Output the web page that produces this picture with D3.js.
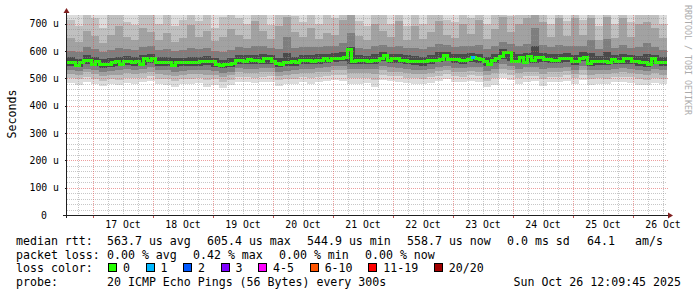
<!DOCTYPE html>
<html>
<head>
<meta charset="utf-8">
<script src="https://cdn.jsdelivr.net/npm/d3@7"></script>
<style>
  body { margin: 0; background: #fff; }
  svg { display: block; }
  text { font-family: "DejaVu Sans Mono", monospace; }
</style>
</head>
<body>
<script>
// median rtt in microseconds, one value per 96 min (150 steps over 10 days)
var median = [
  559,559,549,557,566,566,552,563,551,551, 551,559,563,551,561,563,557,561,552,572,
  567,572,559,559,559,557,548,559,557,557, 558,558,558,562,562,562,560,552,548,552,
  552,556,567,567,561,570,565,565,561,573, 573,561,555,552,557,557,560,557,565,565,
  567,561,567,567,572,567,574,574,572,578, 605,561,565,567,567,561,567,567,572,582,
  567,573,573,565,565,562,562,560,560,560, 565,565,565,570,583,568,568,568,567,567,
  570,575,572,568,561,552,567,571,579,595, 595,561,561,577,559,580,565,575,575,570,
  570,565,565,571,571,574,563,563,574,575, 556,561,561,563,563,559,570,562,562,571,
  571,562,562,557,557,552,572,559,558,558
];
// steps where packets were lost, and how many of 20
var lossAt = [101];
var lossCount = [1];

// smoke: sorted ping values per 192 min step (75 steps); ping 20 is above the top of the axis
var lo1 = [482,476,488,480,472,478,474,484,481,485, 490,478,476,470,479,480,482,468,477,466,
  474,487,486,484,486,488,472,478,480,485, 480,487,490,494,492,480,478,484,470,495,
  490,488,483,480,479,484,490,496,487,485, 492,488,470,476,500,494,478,488,490,472,
  486,487,492,480,494,476,480,478,485,486, 484,476,474,482,478];
var lo3 = [500,496,506,499,492,497,495,503,500,503, 509,498,497,492,498,499,501,494,497,488,
  494,506,505,503,506,507,493,497,499,504, 501,506,509,513,512,500,500,503,495,514,
  509,507,502,500,499,504,510,515,507,505, 511,508,492,500,519,514,500,508,509,497,
  506,506,511,500,513,497,500,499,504,505, 504,497,494,502,498];
var lo5 = [516,512,522,515,508,513,513,519,516,519, 525,515,514,510,514,515,517,514,513,506,
  511,522,521,520,522,523,510,514,515,520, 518,522,525,529,529,518,518,519,516,530,
  525,524,519,516,515,520,527,531,523,522, 527,525,511,519,536,531,518,525,525,517,
  523,523,527,517,529,514,517,516,520,522, 521,515,511,519,514];
var lo7 = [530,526,536,530,523,527,529,534,531,534, 540,530,529,525,528,529,531,531,527,521,
  525,537,536,535,537,538,525,528,530,535, 533,537,540,544,544,535,534,534,534,546,
  540,539,534,531,530,535,543,547,538,537, 542,540,527,536,553,547,535,540,540,536,
  538,538,542,532,544,529,532,531,535,537, 536,530,526,535,529];
var lo9 = [546,541,553,545,539,543,544,550,547,550, 557,546,545,541,544,545,547,549,543,537,
  541,554,553,552,554,554,541,544,546,552, 551,554,557,561,562,552,553,551,554,563,
  557,556,551,548,547,552,561,564,555,554, 560,557,544,556,571,565,556,557,557,559,
  555,555,560,550,562,546,549,548,553,554, 554,547,542,553,545];
var hi12 = [577,572,585,578,570,575,578,582,578,584, 590,578,577,573,576,578,580,583,575,569,
  574,587,586,587,588,586,575,592,580,586, 585,588,590,594,597,615,586,583,589,597,
  590,590,584,582,580,586,596,597,588,588, 593,591,578,590,606,598,590,592,618,594,
  588,590,593,586,595,592,582,596,586,590, 587,582,590,587,578];
var hi14 = [602,598,615,606,596,603,610,608,603,615, 618,604,606,600,603,610,607,612,601,597,
  604,615,612,620,617,612,606,650,610,614, 615,614,617,620,628,665,612,608,618,624,
  616,620,610,612,606,614,625,622,614,618, 620,622,606,618,635,625,620,625,685,624,
  614,622,618,620,620,640,607,645,611,622, 612,614,630,616,605];
var hi16 = [648,635,672,655,630,660,690,650,640,685, 668,640,665,632,648,695,650,675,638,650,
  680,660,645,710,675,645,690,725,668,650, 685,645,665,660,715,740,655,640,700,672,
  650,710,640,690,645,668,710,660,648,700, 662,712,645,680,725,670,700,720,745,708,
  650,720,655,720,660,720,640,725,648,720, 652,698,705,685,648];
var hi18 = [712,690,760,720,685,740,780,705,695,770, 735,700,745,690,715,790,710,760,685,725,
  770,720,700,800,745,695,780,800,730,705, 760,700,740,720,800,820,710,690,785,735,
  700,800,690,770,700,740,800,715,705,790, 720,800,700,760,810,730,790,810,800,800,
  700,810,710,810,715,780,690,800,700,810, 705,790,770,770,700];

var lossLabels = ["0", "1", "2", "3", "4-5", "6-10", "11-19", "20/20"];
var lossColors = ["#26ff00", "#00b8ff", "#0059ff", "#7e00ff", "#ff00ff", "#ff5500", "#ff0000", "#a10000"];
var lossIndex = [0, 1, 2, 3, 4, 4, 5, 5, 5, 5, 5, 6, 6, 6, 6, 6, 6, 6, 6, 6, 7];

var rttStats = ["563.7 us avg", "605.4 us max", "544.9 us min", "558.7 us now", "0.0 ms sd", "64.1", "am/s"];
var lossStats = ["0.00 % avg", "0.42 % max", "0.00 % min", "0.00 % now"];
var probeText = "20 ICMP Echo Pings (56 Bytes) every 300s";
var stampText = "Sun Oct 26 12:09:45 2025";

var W = 697, H = 297;
var plotL = 67, plotR = 667, plotT = 15, plotB = 215;
var yMax = 732;
var t0 = new Date(Date.UTC(2025, 9, 16, 13, 36));
var t1 = new Date(Date.UTC(2025, 9, 26, 13, 36));

var x = d3.scaleUtc().domain([t0, t1]).range([plotL, plotR]);
var y = d3.scaleLinear().domain([0, yMax]).range([plotB, plotT]);

var svg = d3.select("body").append("svg")
    .attr("width", W)
    .attr("height", H);

svg.append("rect")
    .attr("width", "100%")
    .attr("height", "100%")
    .attr("fill", "#fff");

// smoke layers, outer (light) to inner (dark)
var smokeStep = (t1 - t0) / lo1.length;
function tAt(i, step) { return new Date(+t0 + i * step); }
var layers = [
  { lo: lo1, hi: null, color: "#dcdcdc" },
  { lo: lo3, hi: hi18, color: "#c0c0c0" },
  { lo: lo5, hi: hi16, color: "#a2a2a2" },
  { lo: lo7, hi: hi14, color: "#7e7e7e" },
  { lo: lo9, hi: hi12, color: "#4a4a4a" }
];
var smoke = svg.append("g").attr("shape-rendering", "crispEdges");
layers.forEach(function(L) {
  smoke.append("g").selectAll("rect")
    .data(L.lo)
    .enter().append("rect")
    .attr("x", function(d, i) { return x(tAt(i, smokeStep)); })
    .attr("width", function(d, i) { return x(tAt(i + 1, smokeStep)) - x(tAt(i, smokeStep)); })
    .attr("y", function(d, i) { return y(Math.min(L.hi ? L.hi[i] : yMax, yMax)); })
    .attr("height", function(d, i) { return y(d) - y(Math.min(L.hi ? L.hi[i] : yMax, yMax)); })
    .attr("fill", L.color);
});

// median line
var medStep = (t1 - t0) / median.length;
var medPts = median.map(function(v, i) { return [tAt(i, medStep), v]; });
medPts.push([t1, median[median.length - 1]]);
var line = d3.line()
    .x(function(d) { return x(d[0]); })
    .y(function(d) { return y(d[1]); })
    .curve(d3.curveStepAfter);
svg.append("path")
    .datum(medPts)
    .attr("d", line)
    .attr("fill", "none")
    .attr("stroke", lossColors[0])
    .attr("stroke-width", 3)
    .attr("shape-rendering", "crispEdges");

// lossy steps in their loss colour
lossAt.forEach(function(i, j) {
  svg.append("line")
    .attr("x1", x(tAt(i, medStep)))
    .attr("x2", x(tAt(i + 1, medStep)))
    .attr("y1", y(median[i]))
    .attr("y2", y(median[i]))
    .attr("stroke", lossColors[lossIndex[lossCount[j]]])
    .attr("stroke-width", 3)
    .attr("shape-rendering", "crispEdges");
});

// grid, drawn over the graph like rrdtool does
var gridCol = "rgba(143,143,143,0.5)", mgridCol = "rgba(222,79,79,0.55)";
var grid = svg.append("g").attr("shape-rendering", "crispEdges");
var days = d3.utcDay.range(t0, t1);
var sixHours = d3.utcHour.every(6).range(t0, t1).filter(function(d) { return d.getUTCHours() !== 0; });
var minorY = y.ticks(40).filter(function(v) { return v % 100 !== 0; });
var majorY = y.ticks(8).filter(function(v) { return v > 0; });

grid.selectAll(".vmin").data(sixHours).enter().append("line")
    .attr("x1", function(d) { return Math.round(x(d)) + 0.5; })
    .attr("x2", function(d) { return Math.round(x(d)) + 0.5; })
    .attr("y1", plotT).attr("y2", plotB)
    .attr("stroke", gridCol).attr("stroke-dasharray", "1,1");
grid.selectAll(".hmin").data(minorY).enter().append("line")
    .attr("x1", plotL).attr("x2", plotR)
    .attr("y1", function(d) { return Math.round(y(d)) + 0.5; })
    .attr("y2", function(d) { return Math.round(y(d)) + 0.5; })
    .attr("stroke", gridCol).attr("stroke-dasharray", "1,1");
grid.selectAll(".vmaj").data(days).enter().append("line")
    .attr("x1", function(d) { return Math.round(x(d)) + 0.5; })
    .attr("x2", function(d) { return Math.round(x(d)) + 0.5; })
    .attr("y1", plotT).attr("y2", plotB + 2)
    .attr("stroke", mgridCol).attr("stroke-dasharray", "1,1");
grid.selectAll(".hmaj").data(majorY).enter().append("line")
    .attr("x1", plotL - 2).attr("x2", plotR + 2)
    .attr("y1", function(d) { return Math.round(y(d)) + 0.5; })
    .attr("y2", function(d) { return Math.round(y(d)) + 0.5; })
    .attr("stroke", mgridCol).attr("stroke-dasharray", "1,1");
// small solid ticks on the axes
grid.selectAll(".ytick").data(majorY).enter().append("line")
    .attr("x1", plotL - 2).attr("x2", plotL)
    .attr("y1", function(d) { return Math.round(y(d)) + 0.5; })
    .attr("y2", function(d) { return Math.round(y(d)) + 0.5; })
    .attr("stroke", "#1f1f1f");
grid.selectAll(".xtick").data(days).enter().append("line")
    .attr("x1", function(d) { return Math.round(x(d)) + 0.5; })
    .attr("x2", function(d) { return Math.round(x(d)) + 0.5; })
    .attr("y1", plotB).attr("y2", plotB + 3)
    .attr("stroke", "#c05050");

// axes with arrows
var axisCol = "#1f1f1f", arrowCol = "#801f1f";
svg.append("line")
    .attr("x1", plotL - 4).attr("x2", plotR + 2)
    .attr("y1", plotB + 0.5).attr("y2", plotB + 0.5)
    .attr("stroke", axisCol).attr("shape-rendering", "crispEdges");
svg.append("line")
    .attr("x1", plotL - 0.5).attr("x2", plotL - 0.5)
    .attr("y1", plotB + 3).attr("y2", plotT - 2)
    .attr("stroke", axisCol).attr("shape-rendering", "crispEdges");
svg.append("path")
    .attr("d", "M" + (plotR + 1) + "," + (plotB - 2.5) + "L" + (plotR + 6) + "," + (plotB + 0.5) + "L" + (plotR + 1) + "," + (plotB + 3.5) + "Z")
    .attr("fill", arrowCol);
svg.append("path")
    .attr("d", "M" + (plotL - 3.5) + "," + (plotT - 2) + "L" + (plotL - 0.5) + "," + (plotT - 7) + "L" + (plotL + 2.5) + "," + (plotT - 2) + "Z")
    .attr("fill", arrowCol);

// axis labels, centred on noon of each day
var fmt = d3.utcFormat("%d %b");
svg.append("g").selectAll("text")
    .data(days.filter(function(d) { return +d + 43200000 <= +t1; }))
    .enter().append("text")
    .attr("x", function(d) { return x(new Date(+d + 43200000)); })
    .attr("y", plotB + 13)
    .attr("text-anchor", "middle")
    .style("font-size", "9.8px")
    .attr("fill", "#000")
    .text(function(d) { return fmt(d); });

svg.append("g").selectAll("text")
    .data(y.ticks(8))
    .enter().append("text")
    .attr("x", function(d) { return d === 0 ? 47 : 59; })
    .attr("y", function(d) { return y(d) + 3.6; })
    .attr("text-anchor", "end")
    .style("font-size", "9.8px")
    .attr("fill", "#000")
    .text(function(d) { return d === 0 ? "0" : d + " u"; });

svg.append("text")
    .attr("transform", "translate(16,114) rotate(-90)")
    .attr("text-anchor", "middle")
    .style("font-size", "11.6px")
    .attr("fill", "#000")
    .text("Seconds");

svg.append("text")
    .attr("transform", "translate(685,5) rotate(90)")
    .style("font-size", "8.3px")
    .attr("fill", "#ababab")
    .text("RRDTOOL / TOBI OETIKER");

// legend
var cw = 7.02;
var rowY = [245, 258.7, 272.4, 286];
var heads = ["median rtt:", "packet loss:", "loss color:", "probe:"];
var leg = svg.append("g").style("font-size", "11.6px").attr("fill", "#000");
heads.forEach(function(h, i) {
  leg.append("text").attr("x", 16).attr("y", rowY[i]).text(h);
});
var rttX = [107, 207, 307, 407, 507, 587, 635];
rttStats.forEach(function(s, i) {
  leg.append("text").attr("x", rttX[i]).attr("y", rowY[0]).text(s);
});
lossStats.forEach(function(s, i) {
  leg.append("text").attr("x", 107 + i * 86).attr("y", rowY[1]).text(s);
});
var bx = 108;
lossLabels.forEach(function(s, i) {
  leg.append("rect")
    .attr("x", bx + 0.5).attr("y", rowY[2] - 8.5)
    .attr("width", 8).attr("height", 8)
    .attr("fill", lossColors[i]).attr("stroke", "#000")
    .attr("shape-rendering", "crispEdges");
  leg.append("text").attr("x", bx + 15).attr("y", rowY[2]).text(s);
  bx = bx + 15 + s.length * cw + 15.5;
});
leg.append("text").attr("x", 107).attr("y", rowY[3]).text(probeText);
leg.append("text").attr("x", 681).attr("y", rowY[3]).attr("text-anchor", "end").text(stampText);
</script>
</body>
</html>
